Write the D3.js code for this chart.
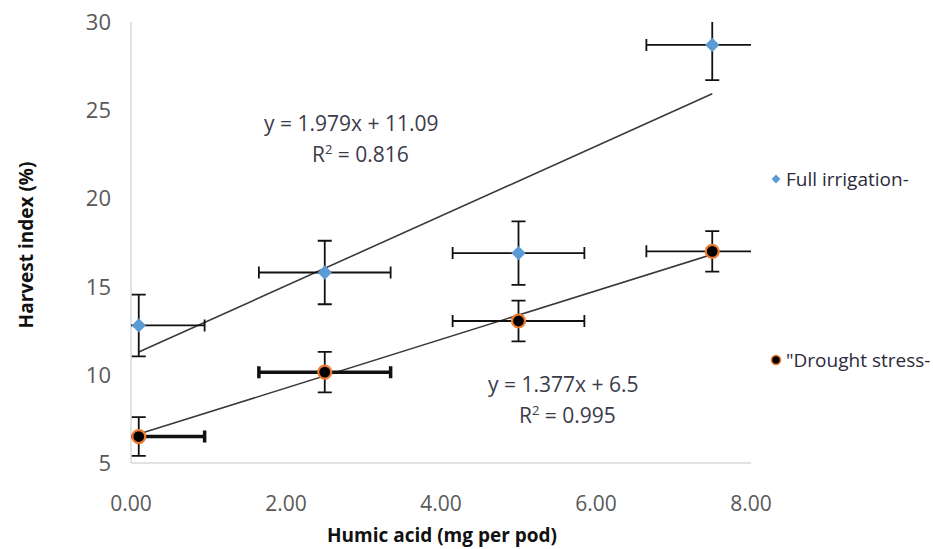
<!DOCTYPE html>
<html>
<head>
<meta charset="utf-8">
<script src="https://cdn.jsdelivr.net/npm/d3@7"></script>
<style>
  body { margin: 0; background: #fff; }
  text { font-family: "Open Sans", "Noto Sans", sans-serif; }
</style>
</head>
<body>
<svg width="933" height="549"></svg>
<script>
// data
const humic = [0.1, 2.5, 5, 7.5];
const fullIrrigation = [12.8, 15.8, 16.9, 28.7];
const fullErrY = [1.75, 1.8, 1.8, 2.0];
const drought = [6.5, 10.15, 13.05, 17.0];
const droughtErrY = [1.1, 1.15, 1.15, 1.15];
const errX = [0.85, 0.85, 0.85, 0.85];
const xTicks = [0, 2, 4, 6, 8];
const yTicks = [5, 10, 15, 20, 25, 30];
const seriesNames = ["Full irrigation-", "\"Drought stress-"];
const trendFull = [1.979, 11.09];    // slope, intercept
const trendDrought = [1.377, 6.5];
const eqFull = ["y = 1.979x + 11.09", "0.816"];
const eqDrought = ["y = 1.377x + 6.5", "0.995"];

const svg = d3.select("svg");

const x = d3.scaleLinear().domain([0, 8]).range([131, 751]);
const y = d3.scaleLinear().domain([5, 30]).range([463, 22]);

// clip for error bars / trend lines
svg.append("defs").append("clipPath")
  .attr("id", "plot")
  .append("rect")
  .attr("x", x(0)).attr("y", y(30))
  .attr("width", x(8) - x(0)).attr("height", y(5) - y(30));

// axes lines
svg.append("line")
  .attr("x1", x(0)).attr("x2", x(0))
  .attr("y1", y(30)).attr("y2", y(5))
  .attr("stroke", "#d9d9d9").attr("stroke-width", 1.5);
svg.append("line")
  .attr("x1", x(0)).attr("x2", x(8))
  .attr("y1", y(5)).attr("y2", y(5))
  .attr("stroke", "#d9d9d9").attr("stroke-width", 1.5);

// tick labels
svg.append("g").selectAll("text")
  .data(yTicks)
  .join("text")
  .attr("x", 111)
  .attr("y", d => y(d))
  .attr("dy", "0.36em")
  .attr("text-anchor", "end")
  .attr("font-size", 22)
  .attr("fill", "#595959")
  .text(d => d);

svg.append("g").selectAll("text")
  .data(xTicks)
  .join("text")
  .attr("x", d => x(d))
  .attr("y", 511)
  .attr("text-anchor", "middle")
  .attr("font-size", 21)
  .attr("fill", "#595959")
  .text(d => d3.format(".2f")(d));

// axis titles
svg.append("text")
  .attr("transform", "translate(33,245) rotate(-90)")
  .attr("text-anchor", "middle")
  .attr("font-size", 19)
  .attr("font-weight", "bold")
  .attr("fill", "#111")
  .text("Harvest index (%)");

svg.append("text")
  .attr("x", 442).attr("y", 542)
  .attr("text-anchor", "middle")
  .attr("font-size", 19)
  .attr("font-weight", "bold")
  .attr("fill", "#111")
  .text("Humic acid  (mg per pod)");

const plot = svg.append("g").attr("clip-path", "url(#plot)");

// trend lines
const line = d3.line().x(d => x(d[0])).y(d => y(d[1]));
[trendFull, trendDrought].forEach(t => {
  const pts = [humic[0], humic[humic.length - 1]].map(v => [v, t[0] * v + t[1]]);
  plot.append("path")
    .attr("d", line(pts))
    .attr("fill", "none")
    .attr("stroke", "#3a3a3a")
    .attr("stroke-width", 1.6);
});

// error bars
function errorBars(vals, errY, heavyX) {
  const g = plot.append("g").attr("stroke", "#111").attr("fill", "none");
  humic.forEach((h, i) => {
    const cx = x(h), cy = y(vals[i]);
    const x0 = x(h - errX[i]), x1 = x(h + errX[i]);
    const y0 = y(vals[i] + errY[i]), y1 = y(vals[i] - errY[i]);
    const hw = heavyX[i] ? 3.5 : 1.8;
    g.append("path")
      .attr("stroke-width", hw)
      .attr("d", `M${x0},${cy}H${x1}M${x0},${cy - 6}V${cy + 6}M${x1},${cy - 6}V${cy + 6}`);
    g.append("path")
      .attr("stroke-width", 1.8)
      .attr("d", `M${cx},${y0}V${y1}M${cx - 7},${y0}H${cx + 7}M${cx - 7},${y1}H${cx + 7}`);
  });
}
errorBars(fullIrrigation, fullErrY, [false, false, false, false]);
errorBars(drought, droughtErrY, [true, true, false, false]);

// markers
const diamond = d3.symbol().type(d3.symbolDiamond2).size(130);
svg.append("g").selectAll("path")
  .data(humic)
  .join("path")
  .attr("d", diamond)
  .attr("transform", (d, i) => `translate(${x(d)},${y(fullIrrigation[i])})`)
  .attr("fill", "#5b9bd5");

svg.append("g").selectAll("circle")
  .data(humic)
  .join("circle")
  .attr("cx", d => x(d))
  .attr("cy", (d, i) => y(drought[i]))
  .attr("r", 6.5)
  .attr("fill", "#000")
  .attr("stroke", "#ed7d31")
  .attr("stroke-width", 2.2);

// trend equations
function equation(lines, x0, x1, cy) {
  const t = svg.append("text")
    .attr("font-size", 21)
    .attr("fill", "#3b3b4a");
  t.append("tspan").attr("x", x0).attr("y", cy).text(lines[0]);
  const r = t.append("tspan").attr("x", x1).attr("y", cy + 31).text("R");
  r.append("tspan").attr("font-size", 13).attr("dy", -8).text("2");
  r.append("tspan").attr("dy", 8).text(" = " + lines[1]);
}
equation(eqFull, 264, 312, 131);
equation(eqDrought, 488, 519, 392);

// legend
const legend = svg.append("g");
legend.append("path")
  .attr("d", d3.symbol().type(d3.symbolDiamond2).size(50))
  .attr("transform", "translate(776,179)")
  .attr("fill", "#5b9bd5");
legend.append("circle")
  .attr("cx", 776).attr("cy", 360).attr("r", 4.5)
  .attr("fill", "#000").attr("stroke", "#ed7d31").attr("stroke-width", 1.6);
legend.selectAll("text")
  .data(seriesNames)
  .join("text")
  .attr("x", 786)
  .attr("y", (d, i) => i === 0 ? 179 : 360)
  .attr("dy", "0.35em")
  .attr("font-size", 19)
  .attr("fill", "#2b2b3a")
  .text(d => d);
</script>
</body>
</html>
